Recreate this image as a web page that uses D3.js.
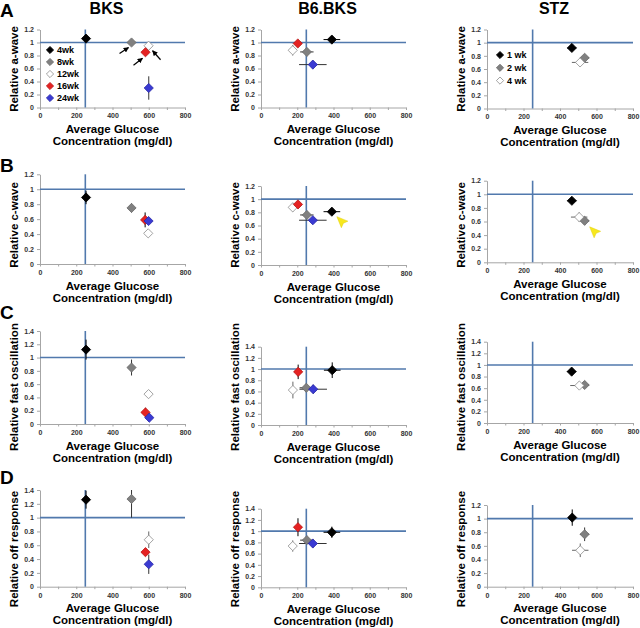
<!DOCTYPE html>
<html>
<head>
<meta charset="utf-8">
<script src="https://cdn.jsdelivr.net/npm/d3@7"></script>
<style>
body { margin: 0; background: #fff; }
text { font-family: "Liberation Sans", Arial, sans-serif; }
</style>
</head>
<body>
<div id="fig"></div>
<script>
// svg container
var svgWidth = 640;
var svgHeight = 628;

// columns (strains) and rows (measures)
var strains = ["BKS", "B6.BKS", "STZ"];
var panelLetters = ["A", "B", "C", "D"];
var measures = ["Relative a-wave", "Relative c-wave", "Relative fast oscillation", "Relative off response"];
var bksGroups = ["4wk", "8wk", "12wk", "16wk", "24wk"];
var stzGroups = ["1 wk", "2 wk", "4 wk"];
var xTicks = [0, 200, 400, 600, 800];
var yMaxes = [[1.2, 1.2, 1.2], [1.2, 1.2, 1.2], [1.4, 1.4, 1.4], [1.4, 1.4, 1.2]];
var glucoseLine = 250;
var relativeLine = 1;

// each entry: [glucose, glucose error, relative response, response error]
var bksAwave  = [[254, 22, 1.06, 0.03], [505, 0, 1.00, 0], [599, 0, 0.95, 0], [582, 0, 0.85, 0], [600, 0, 0.30, 0.18]];
var bksCwave  = [[254, 20, 0.89, 0.09], [505, 20, 0.75, 0.06], [597, 0, 0.41, 0], [580, 0, 0.59, 0.10], [599, 0, 0.575, 0]];
var bksFast   = [[254, 20, 1.12, 0.15], [505, 20, 0.85, 0.12], [599, 0, 0.45, 0], [582, 0, 0.175, 0.07], [603, 0, 0.095, 0]];
var bksOff    = [[254, 20, 1.26, 0.13], [505, 0, 1.27, 0.27], [600, 0, 0.68, 0.12], [582, 0, 0.50, 0], [600, 0, 0.325, 0.14]];

var b6Awave   = [[391, 46, 1.045, 0.04], [253, 37, 0.855, 0.04], [175, 0, 0.88, 0.08], [203, 22, 0.985, 0.03], [286, 76, 0.66, 0.05]];
var b6Cwave   = [[391, 46, 0.81, 0.04], [253, 37, 0.76, 0.05], [175, 0, 0.875, 0.07], [204, 20, 0.92, 0.05], [286, 76, 0.68, 0.03]];
var b6Fast    = [[393, 46, 0.98, 0.14], [250, 37, 0.665, 0.07], [176, 0, 0.625, 0.15], [205, 20, 0.95, 0.13], [288, 76, 0.64, 0.08]];
var b6Off     = [[391, 46, 0.98, 0.10], [253, 37, 0.84, 0.04], [175, 0, 0.735, 0.10], [204, 20, 1.07, 0.16], [286, 76, 0.78, 0.07]];

var stzAwave  = [[465, 25, 0.92, 0.03], [535, 25, 0.77, 0.05], [510, 45, 0.70, 0.06]];
var stzCwave  = [[465, 25, 0.905, 0.03], [535, 25, 0.61, 0.05], [505, 45, 0.665, 0.07]];
var stzFast   = [[464, 25, 0.885, 0.05], [535, 25, 0.655, 0.04], [506, 50, 0.645, 0.03]];
var stzOff    = [[467, 20, 1.015, 0.12], [535, 25, 0.77, 0.10], [511, 45, 0.535, 0.10]];

var panelData = [
    [bksAwave, b6Awave, stzAwave],
    [bksCwave, b6Cwave, stzCwave],
    [bksFast, b6Fast, stzFast],
    [bksOff, b6Off, stzOff]
];

// marker styles for the groups
var groupFill = ["#000000", "#808080", "#ffffff", "#e52222", "#3a3ad2"];
var groupStroke = ["#000000", "#6a6a6a", "#8c8c8c", "#b81414", "#2626a8"];
var barColor = ["#000000", "#333333", "#666666", "#000000", "#333333"];

// plot areas in pixels
var colX = [[40, 185], [261, 406], [487, 633]];
var panelY = [
    [[107.5, 29.5], [107.5, 29.5], [108.5, 29.5]],
    [[264, 174.3], [265, 186], [262.3, 180.7]],
    [[424, 331], [425, 346.7], [423, 341.7]],
    [[586.7, 490], [587.3, 508.7], [586.7, 505]]
];
var yTitleCenter = [69, 225, 387, 549];
var letterBaseline = [17, 172, 319, 484];

var refColor = "#5179ad";
var axisColor = "#a6a6a6";

var svg = d3.select("#fig")
    .append("svg")
    .attr("width", svgWidth)
    .attr("height", svgHeight);

var defs = svg.append("defs");
defs.append("marker")
    .attr("id", "arrowHead")
    .attr("viewBox", "0 0 10 10")
    .attr("refX", 9)
    .attr("refY", 5)
    .attr("markerWidth", 4.5)
    .attr("markerHeight", 4.5)
    .attr("orient", "auto")
    .append("path")
    .attr("d", "M0,0 L10,5 L0,10 Z")
    .attr("fill", "#000");

function diamond(h) {
    return `M0,${-h} L${h},0 L0,${h} L${-h},0 Z`;
}

function fmtY(d) {
    return String(+d.toFixed(1));
}

function drawPanel(r, c) {
    var yMax = yMaxes[r][c];
    var x = d3.scaleLinear().domain([0, 800]).range(colX[c]);
    var y = d3.scaleLinear().domain([0, yMax]).range(panelY[r][c]);
    var g = svg.append("g");

    // clip for the marks
    var clipId = `clip-${r}-${c}`;
    defs.append("clipPath").attr("id", clipId)
        .append("rect")
        .attr("x", x(0) - 6).attr("y", y(yMax))
        .attr("width", x(800) - x(0) + 12).attr("height", y(0) - y(yMax) + 6);

    // x axis
    var bottomAxis = d3.axisBottom(x)
        .tickValues(d3.range(0, 801, 100))
        .tickSize(2.5)
        .tickSizeOuter(0)
        .tickFormat(d => xTicks.indexOf(d) >= 0 ? d : "");
    var xg = g.append("g")
        .attr("transform", `translate(0, ${y(0)})`)
        .call(bottomAxis);

    // y axis
    var leftAxis = d3.axisLeft(y)
        .tickValues(d3.range(0, Math.round(yMax / 0.2) + 1).map(i => i * 0.2))
        .tickSize(3)
        .tickSizeOuter(0)
        .tickFormat(fmtY);
    var yg = g.append("g")
        .attr("transform", `translate(${x(0)}, 0)`)
        .call(leftAxis);

    [xg, yg].forEach(function(ax) {
        ax.select(".domain").attr("stroke", axisColor);
        ax.selectAll(".tick line").attr("stroke", axisColor);
        ax.selectAll(".tick text")
            .attr("fill", "#333")
            .style("font-size", "7px")
            .style("font-weight", "bold")
            .style("font-family", "'Liberation Sans', Arial, sans-serif");
    });
    xg.selectAll(".tick text").attr("y", 6);
    yg.selectAll(".tick text").attr("x", -6);

    // reference lines
    g.append("line")
        .attr("x1", x(0)).attr("x2", x(800))
        .attr("y1", y(relativeLine)).attr("y2", y(relativeLine))
        .attr("stroke", refColor).attr("stroke-width", 1.6);
    g.append("line")
        .attr("x1", x(glucoseLine)).attr("x2", x(glucoseLine))
        .attr("y1", y(0)).attr("y2", y(yMax))
        .attr("stroke", refColor).attr("stroke-width", 1.6);

    // data
    var data = panelData[r][c];
    var marks = g.append("g").attr("clip-path", `url(#${clipId})`);

    // error bars
    data.forEach(function(d, i) {
        var col = barColor[i];
        if (d[1] > 0) {
            marks.append("line")
                .attr("x1", x(d[0] - d[1])).attr("x2", x(d[0] + d[1]))
                .attr("y1", y(d[2])).attr("y2", y(d[2]))
                .attr("stroke", col).attr("stroke-width", 1);
        }
        if (d[3] > 0) {
            marks.append("line")
                .attr("x1", x(d[0])).attr("x2", x(d[0]))
                .attr("y1", y(d[2] - d[3])).attr("y2", y(d[2] + d[3]))
                .attr("stroke", col).attr("stroke-width", 1);
        }
    });

    // diamonds
    marks.selectAll("path.pt")
        .data(data)
        .enter()
        .append("path")
        .attr("class", "pt")
        .attr("d", diamond(4.6))
        .attr("transform", d => `translate(${x(d[0])}, ${y(d[2])})`)
        .attr("fill", (d, i) => groupFill[i])
        .attr("stroke", (d, i) => groupStroke[i])
        .attr("stroke-width", 0.8);

    // axis titles
    var xc = (x(0) + x(800)) / 2;
    g.append("text")
        .attr("x", xc).attr("y", y(0) + 25.5)
        .attr("text-anchor", "middle")
        .style("font-size", "11.5px").style("font-weight", "bold")
        .text("Average Glucose");
    g.append("text")
        .attr("x", xc).attr("y", y(0) + 37.5)
        .attr("text-anchor", "middle")
        .style("font-size", "11.5px").style("font-weight", "bold")
        .text("Concentration (mg/dl)");
    g.append("text")
        .attr("transform", `translate(${x(0) - 26}, ${yTitleCenter[r]}) rotate(-90)`)
        .attr("text-anchor", "middle")
        .attr("dy", "0.35em")
        .style("font-size", "11.5px").style("font-weight", "bold")
        .text(measures[r]);

    return {x: x, y: y, g: g};
}

var panels = [];
for (var r = 0; r < 4; r++) {
    panels.push([]);
    for (var c = 0; c < 3; c++) {
        panels[r].push(drawPanel(r, c));
    }
    svg.append("text")
        .attr("x", 0).attr("y", letterBaseline[r])
        .style("font-size", "19px").style("font-weight", "bold")
        .text(panelLetters[r]);
}

// strain titles
strains.forEach(function(s, c) {
    var x = panels[0][c].x;
    svg.append("text")
        .attr("x", (x(0) + x(800)) / 2 - 6)
        .attr("y", 14)
        .attr("text-anchor", "middle")
        .style("font-size", "16px").style("font-weight", "bold")
        .text(s);
});

// legends
function drawLegend(p, groups, dx, y0, step) {
    var lg = p.g.append("g")
        .attr("transform", `translate(${p.x(0) + dx}, ${y0})`);
    groups.forEach(function(name, i) {
        lg.append("path")
            .attr("d", diamond(3.6))
            .attr("transform", `translate(0, ${i * step})`)
            .attr("fill", groupFill[i])
            .attr("stroke", groupStroke[i])
            .attr("stroke-width", 0.8);
        lg.append("text")
            .attr("x", 7).attr("y", i * step)
            .attr("dy", "0.35em")
            .style("font-size", "9px").style("font-weight", "bold")
            .text(name);
    });
}
drawLegend(panels[0][0], bksGroups, 10, 50, 12);
drawLegend(panels[0][2], stzGroups, 13, 55, 12.8);

// black arrows pointing to 8wk, 16wk and 12wk in BKS a-wave
var pA = panels[0][0];
var arrowSpecs = [[1, -12, 11, -3, 5], [3, -12, 13, -3, 6], [2, 12, 14, 4, 5]];
arrowSpecs.forEach(function(a) {
    var d = bksAwave[a[0]];
    var px = pA.x(d[0]), py = pA.y(d[2]);
    pA.g.append("line")
        .attr("x1", px + a[1]).attr("y1", py + a[2])
        .attr("x2", px + a[3]).attr("y2", py + a[4])
        .attr("stroke", "#000").attr("stroke-width", 1.2)
        .attr("marker-end", "url(#arrowHead)");
});

// yellow arrowheads in c-wave panels
function yellowArrow(p, d, ox, oy) {
    p.g.append("path")
        .attr("d", "M0,0 L11,4.5 L6.5,6.5 L4.5,11 Z")
        .attr("transform", `translate(${p.x(d[0]) + ox}, ${p.y(d[2]) + oy})`)
        .attr("fill", "#f7e81e")
        .attr("stroke", "#e0cf10")
        .attr("stroke-width", 0.5);
}
yellowArrow(panels[1][1], b6Cwave[0], 5, 5);
yellowArrow(panels[1][2], stzCwave[1], 5, 6);
</script>
</body>
</html>
